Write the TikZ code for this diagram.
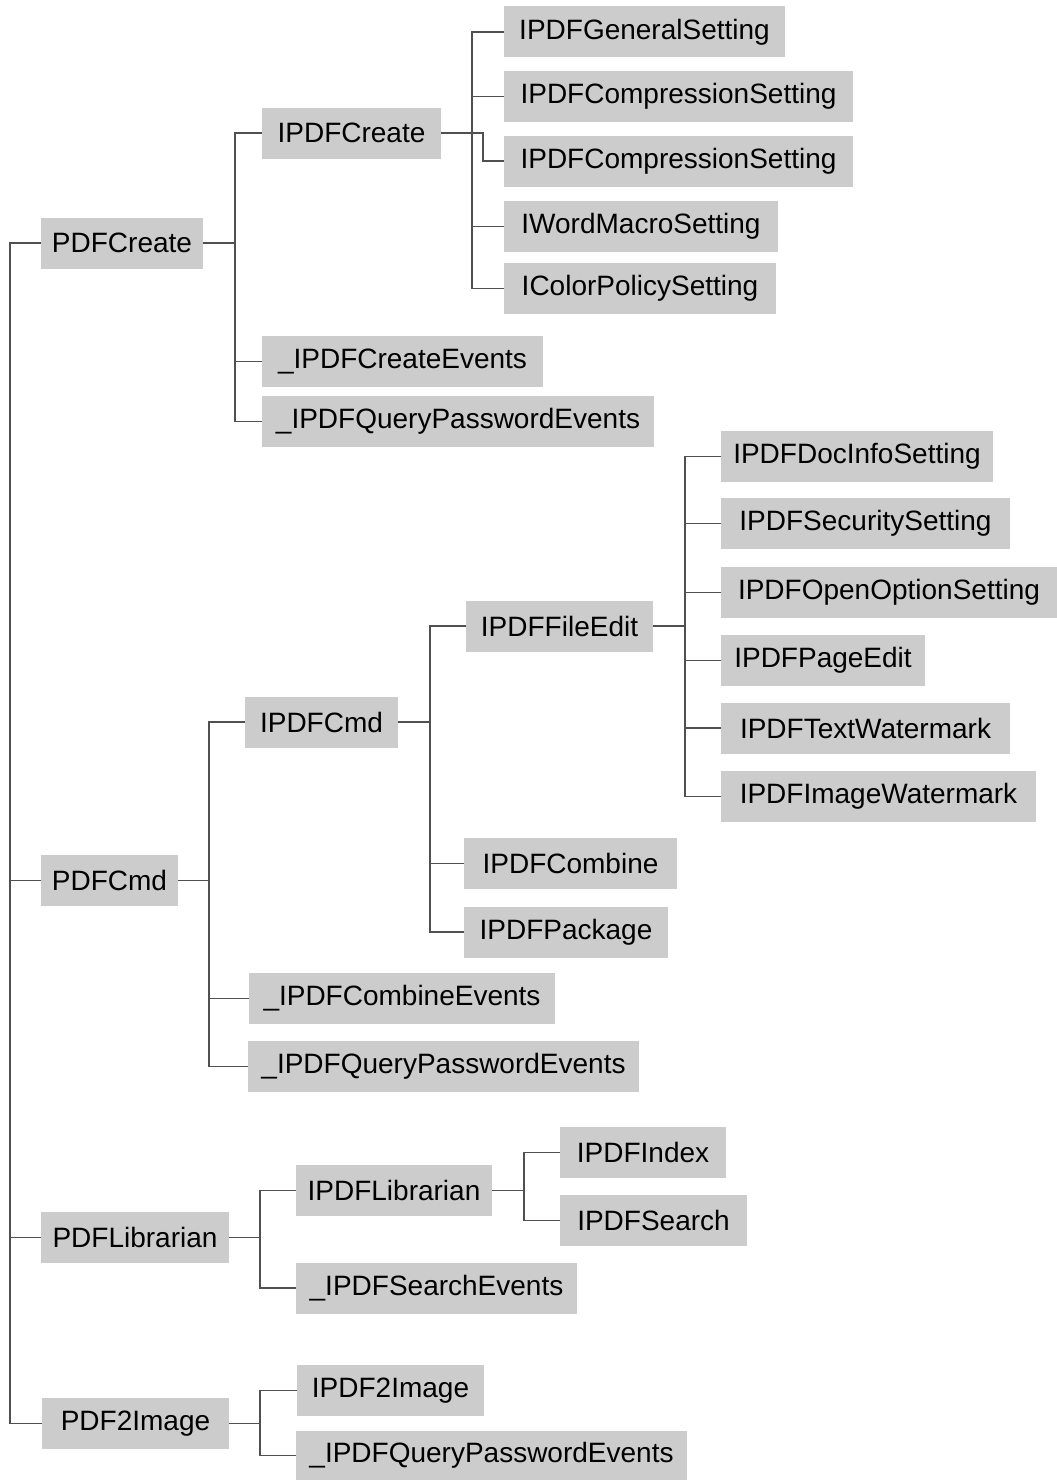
\documentclass[tikz,border=0pt]{standalone}
\usepackage{fontspec}
\setmainfont{Liberation Sans}
\definecolor{boxgray}{HTML}{CCCCCC}
\definecolor{linegray}{HTML}{505050}
\begin{document}
\begin{tikzpicture}[x=1pt,y=-1pt,
  box/.style={fill=boxgray, draw=none, inner sep=0pt, minimum height=51pt,
    font=\fontsize{28}{32}\selectfont, text=black, anchor=center},
  conn/.style={draw=linegray, line width=1.2pt}]
\useasboundingbox (0,0) rectangle (1057,1480);
% level 1
\node[box, minimum width=162pt] (pdfcreate) at (122,243) {PDFCreate};
\node[box, minimum width=137pt] (pdfcmd) at (109.5,880.5) {PDFCmd};
\node[box, minimum width=188pt] (pdflib) at (135,1237.5) {PDFLibrarian};
\node[box, minimum width=187pt] (pdf2image) at (135.5,1423.5) {PDF2Image};
% PDFCreate subtree
\node[box, minimum width=179pt] (ipdfcreate) at (351.5,133) {IPDFCreate};
\node[box, minimum width=281pt] (gen) at (644.5,32) {IPDFGeneralSetting};
\node[box, minimum width=349pt] (comp1) at (678.5,96.5) {IPDFCompressionSetting};
\node[box, minimum width=349pt] (comp2) at (678.5,161) {IPDFCompressionSetting};
\node[box, minimum width=274pt] (word) at (641,226.5) {IWordMacroSetting};
\node[box, minimum width=272pt] (color) at (640,288.5) {IColorPolicySetting};
\node[box, minimum width=281pt] (createev) at (402.5,361.5) {\_IPDFCreateEvents};
\node[box, minimum width=392pt] (qp1) at (458,421.5) {\_IPDFQueryPasswordEvents};
% PDFCmd subtree
\node[box, minimum width=153pt] (ipdfcmd) at (321.5,722) {IPDFCmd};
\node[box, minimum width=187pt] (fileedit) at (559.5,626) {IPDFFileEdit};
\node[box, minimum width=272pt] (docinfo) at (857,456.5) {IPDFDocInfoSetting};
\node[box, minimum width=289pt] (security) at (865.5,523.5) {IPDFSecuritySetting};
\node[box, minimum width=336pt] (openopt) at (889,592.5) {IPDFOpenOptionSetting};
\node[box, minimum width=204pt] (pageedit) at (823,660.5) {IPDFPageEdit};
\node[box, minimum width=289pt] (textwm) at (865.5,728) {IPDFTextWatermark};
\node[box, minimum width=315pt] (imagewm) at (878.5,796.5) {IPDFImageWatermark};
\node[box, minimum width=213pt] (combine) at (570.5,863.5) {IPDFCombine};
\node[box, minimum width=204pt] (package) at (566,932) {IPDFPackage};
\node[box, minimum width=306pt] (combineev) at (402,998.5) {\_IPDFCombineEvents};
\node[box, minimum width=391pt] (qp2) at (443.5,1066.5) {\_IPDFQueryPasswordEvents};
% PDFLibrarian subtree
\node[box, minimum width=196pt] (ipdflib) at (394,1190.5) {IPDFLibrarian};
\node[box, minimum width=166pt] (index) at (643,1152.5) {IPDFIndex};
\node[box, minimum width=187pt] (search) at (653.5,1220.5) {IPDFSearch};
\node[box, minimum width=281pt] (searchev) at (436.5,1288) {\_IPDFSearchEvents};
% PDF2Image subtree
\node[box, minimum width=187pt] (ipdf2image) at (390.5,1390.5) {IPDF2Image};
\node[box, minimum width=391pt, minimum height=49pt] (qp3) at (491.5,1455.5) {\_IPDFQueryPasswordEvents};
% root bus
\coordinate (rootbus) at (10,243);
\draw[conn] (pdfcreate.west) -- (rootbus) |- (pdfcmd.west);
\draw[conn] (rootbus) |- (pdflib.west);
\draw[conn] (rootbus) |- (pdf2image.west);
% PDFCreate
\draw[conn] (pdfcreate.east) -- (235,243) |- (ipdfcreate.west);
\draw[conn] (235,243) |- (createev.west);
\draw[conn] (235,243) |- (qp1.west);
% IPDFCreate
\draw[conn] (ipdfcreate.east) -- (472,133) |- (gen.west);
\draw[conn] (472,133) |- (comp1.west);
\draw[conn] (472,133) |- (word.west);
\draw[conn] (472,133) |- (color.west);
\draw[conn] (ipdfcreate.east) -- (483,133) |- (comp2.west);
% PDFCmd
\draw[conn] (pdfcmd.east) -- (209,880.5) |- (ipdfcmd.west);
\draw[conn] (209,880.5) |- (combineev.west);
\draw[conn] (209,880.5) |- (qp2.west);
% IPDFCmd
\draw[conn] (ipdfcmd.east) -- (430,722) |- (fileedit.west);
\draw[conn] (430,722) |- (combine.west);
\draw[conn] (430,722) |- (package.west);
% IPDFFileEdit
\draw[conn] (fileedit.east) -- (685,626) |- (docinfo.west);
\draw[conn] (685,626) |- (security.west);
\draw[conn] (685,626) |- (openopt.west);
\draw[conn] (685,626) |- (pageedit.west);
\draw[conn] (685,626) |- (textwm.west);
\draw[conn] (685,626) |- (imagewm.west);
% PDFLibrarian
\draw[conn] (pdflib.east) -- (260,1237.5) |- (ipdflib.west);
\draw[conn] (260,1237.5) |- (searchev.west);
\draw[conn] (ipdflib.east) -- (524,1190.5) |- (index.west);
\draw[conn] (524,1190.5) |- (search.west);
% PDF2Image
\draw[conn] (pdf2image.east) -- (260,1423.5) |- (ipdf2image.west);
\draw[conn] (260,1423.5) |- (qp3.west);
\end{tikzpicture}
\end{document}
